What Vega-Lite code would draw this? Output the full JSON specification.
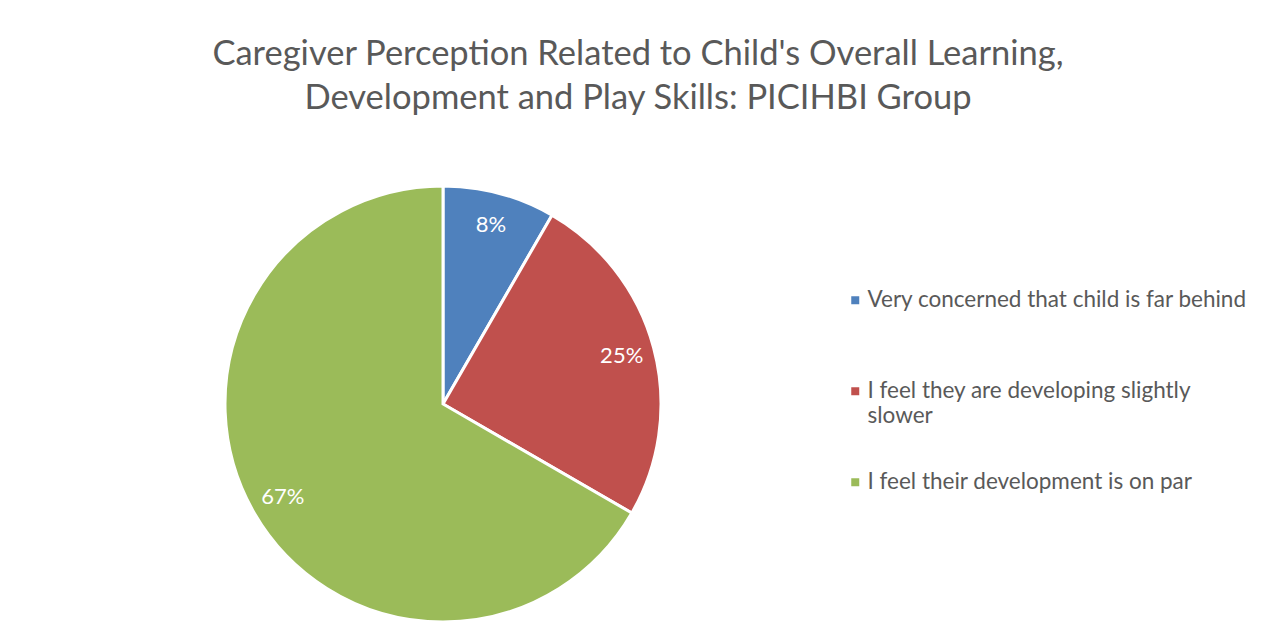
{
  "$schema": "https://vega.github.io/schema/vega-lite/v6.json",
  "width": 870,
  "height": 436,
  "autosize": {"type": "none"},
  "padding": {"left": 8, "top": 186, "right": 391, "bottom": 12},
  "background": "white",
  "title": {
    "text": ["Caregiver Perception Related to Child's Overall Learning,", "Development and Play Skills: PICIHBI Group"],
    "font": "Lato",
    "fontSize": 34.5,
    "fontWeight": "normal",
    "color": "#595959",
    "anchor": "middle",
    "dx": 195,
    "offset": 64,
    "lineHeight": 44
  },
  "data": {
    "values": [
      {"category": "Very concerned that child is far behind", "value": 1, "label": "8%", "order": 1},
      {"category": "I feel they are developing slightly slower", "value": 3, "label": "25%", "order": 2},
      {"category": "I feel their development is on par", "value": 8, "label": "67%", "order": 3}
    ]
  },
  "encoding": {
    "theta": {"field": "value", "type": "quantitative", "stack": true},
    "order": {"field": "order", "type": "quantitative"}
  },
  "layer": [
    {
      "mark": {"type": "arc", "outerRadius": 218, "stroke": "white", "strokeWidth": 3},
      "encoding": {
        "color": {
          "field": "category",
          "type": "nominal",
          "sort": ["Very concerned that child is far behind", "I feel they are developing slightly slower", "I feel their development is on par"],
          "scale": {
            "domain": ["Very concerned that child is far behind", "I feel they are developing slightly slower", "I feel their development is on par"],
            "range": ["#4F81BD", "#C0504D", "#9BBB59"]
          },
          "legend": {
            "orient": "none",
            "legendX": 836,
            "legendY": 103,
            "title": null,
            "labelFont": "Lato",
            "labelFontSize": 22.5,
            "labelColor": "#595959",
            "labelLimit": 600,
            "labelBaseline": "middle",
            "labelOffset": 1,
            "symbolType": "square",
            "symbolSize": 64,
            "symbolStrokeWidth": 0,
            "rowPadding": 43,
            "labelExpr": "datum.label == 'I feel they are developing slightly slower' ? ['I feel they are developing slightly', 'slower'] : [datum.label, '']"
          }
        }
      }
    },
    {
      "mark": {"type": "text", "radius": 185, "font": "Lato", "fontSize": 22, "color": "white"},
      "encoding": {"text": {"field": "label", "type": "nominal"}}
    }
  ],
  "config": {"view": {"stroke": null}}
}
